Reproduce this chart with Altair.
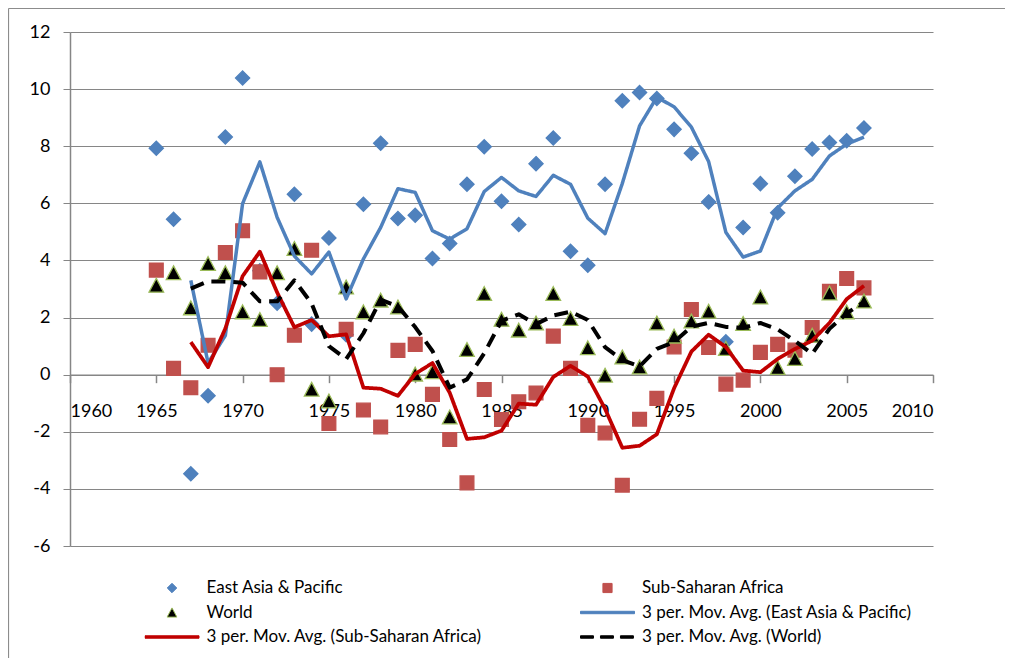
import altair as alt
import pandas as pd

years = list(range(1965, 2007))
east_asia = [7.93, 5.44, -3.47, -0.74, 8.32, 10.39, 3.64, 2.50, 6.32, 1.77, 4.79, 1.40,
             5.97, 8.10, 5.47, 5.58, 4.07, 4.59, 6.67, 7.98, 6.07, 5.26, 7.39, 8.29,
             4.32, 3.83, 6.67, 9.59, 9.88, 9.67, 8.59, 7.75, 6.05, 1.15, 5.15, 6.69,
             5.67, 6.95, 7.90, 8.13, 8.19, 8.64]
sub_saharan = [3.66, 0.22, -0.46, 1.03, 4.28, 5.04, 3.60, 0.00, 1.38, 4.36, -1.71, 1.59,
               -1.24, -1.83, 0.85, 1.06, -0.69, -2.27, -3.79, -0.52, -1.57, -0.95, -0.64, 1.35,
               0.22, -1.77, -2.04, -3.87, -1.56, -0.83, 0.97, 2.28, 0.95, -0.33, -0.19, 0.78,
               1.06, 0.86, 1.65, 2.92, 3.37, 3.04]
world = [3.13, 3.57, 2.34, 3.89, 3.57, 2.20, 1.93, 3.57, 4.42, -0.51, -0.92, 3.07,
         2.20, 2.61, 2.37, 0.02, 0.10, -1.48, 0.88, 2.84, 1.94, 1.56, 1.81, 2.84,
         1.97, 0.94, -0.02, 0.62, 0.27, 1.81, 1.35, 1.88, 2.22, 0.92, 1.79, 2.72,
         0.25, 0.57, 1.38, 2.86, 2.20, 2.58]

regions = ["East Asia & Pacific", "Sub-Saharan Africa", "World"]
ma_names = ["3 per. Mov. Avg. (East Asia & Pacific)",
            "3 per. Mov. Avg. (Sub-Saharan Africa)",
            "3 per. Mov. Avg. (World)"]
legend_order = regions + ma_names

x_ticks = list(range(1960, 2011, 5))
y_ticks = list(range(-6, 13, 2))

df = pd.DataFrame({
    "year": years * 3,
    "value": east_asia + sub_saharan + world,
    "region": [r for r in regions for _ in years],
})

# styling
fill_range = ["#4F81BD", "#C0504D", "#000000", "#4F81BD", "#C00000", "#000000"]
stroke_range = ["#4F81BD", "#C0504D", "#9BBB59", "#4F81BD", "#C00000", "#000000"]
diamond = "M0,-0.175L0.175,0L0,0.175L-0.175,0Z"
square = "M-0.17,-0.17H0.17V0.17H-0.17Z"
triangle = "M0,-0.17L0.18,0.17L-0.18,0.17Z"
bar = "M-1,-0.045H1V0.045H-1Z"
dashbar = ("M-1,-0.045H-0.52V0.045H-1Z M-0.26,-0.045H0.22V0.045H-0.26Z "
           "M0.48,-0.045H0.96V0.045H0.48Z")
shape_range = [diamond, square, triangle, bar, bar, dashbar]

fill_scale = alt.Scale(domain=legend_order, range=fill_range)
stroke_scale = alt.Scale(domain=legend_order, range=stroke_range)
shape_scale = alt.Scale(domain=legend_order, range=shape_range)

W, H = 863, 514
PAD = {"left": 62, "top": 24, "right": 72, "bottom": 112}
x_enc = alt.X("year:Q", scale=alt.Scale(domain=[1960, 2010], nice=False, zero=False),
              axis=alt.Axis(values=x_ticks, labelExpr="'' + datum.value", grid=False,
                            title=None, tickSize=8, labelPadding=29, labelBaseline="middle",
                            offset=-H / 3, domainWidth=1.5, tickWidth=1.5))
y_scale = alt.Scale(domain=[-6, 12], nice=False, zero=False)
y_axis = alt.Axis(values=y_ticks, labelExpr="'' + datum.value", grid=True, title=None,
                  tickSize=7, labelPadding=13, domainWidth=1.5, gridWidth=1.2)

base = alt.Chart(df)

points = base.mark_point(filled=True, size=6561, opacity=1, strokeWidth=1.3).encode(
    x=x_enc,
    y=alt.Y("value:Q", scale=y_scale, axis=y_axis),
    fill=alt.Fill("region:N", scale=fill_scale, legend=alt.Legend(title=None)),
    stroke=alt.Stroke("region:N", scale=stroke_scale, legend=alt.Legend(title=None)),
    shape=alt.Shape("region:N", scale=shape_scale, legend=alt.Legend(title=None)),
)

lines = base.transform_window(
    ma="mean(value)", n="count(value)", frame=[-2, 0], groupby=["region"],
    sort=[alt.SortField("year", order="ascending")]
).transform_filter("datum.n == 3").transform_calculate(
    series="'3 per. Mov. Avg. (' + datum.region + ')'"
).mark_line(strokeJoin="round", strokeCap="butt").encode(
    x="year:Q",
    y="ma:Q",
    stroke=alt.Stroke("series:N", scale=stroke_scale, legend=alt.Legend(title=None)),
    strokeDash=alt.StrokeDash("series:N",
                              scale=alt.Scale(domain=ma_names, range=[[1, 0], [1, 0], [14, 8]]),
                              legend=None),
    strokeWidth=alt.StrokeWidth("series:N",
                                scale=alt.Scale(domain=ma_names, range=[3.5, 4.0, 3.5]),
                                legend=None),
)

# chart-area frame (top and left edges, as in the spreadsheet chart)
frame_data = alt.Chart(pd.DataFrame({"k": [0]}))
frame_top = frame_data.mark_rule(color="#8C8C8C", strokeWidth=1.2).encode(
    x=alt.value(-PAD["left"] + 0.5), x2=alt.value(W + PAD["right"]),
    y=alt.value(-PAD["top"] + 0.5))
frame_left = frame_data.mark_rule(color="#8C8C8C", strokeWidth=1.2).encode(
    x=alt.value(-PAD["left"] + 0.5), y=alt.value(-PAD["top"] + 0.5),
    y2=alt.value(H + PAD["bottom"]))

chart = alt.layer(frame_top, frame_left, points, lines).properties(
    width=W, height=H,
    autosize=alt.AutoSizeParams(type="none"),
    padding=PAD,
).configure_view(strokeWidth=0).configure_axis(
    labelFont="Lato", labelFontSize=18, labelColor="#000000",
    domainColor="#868686", tickColor="#868686", gridColor="#868686",
).configure_legend(
    orient="none", legendX=74.5, legendY=546, columns=2, columnPadding=97.5,
    direction="horizontal",
    rowPadding=4.5, clipHeight=20, symbolSize=2916, symbolStrokeWidth=1,
    labelOffset=7, labelFont="Lato", labelFontSize=17, labelColor="#000000",
    labelLimit=600, padding=0,
)

chart.save("out.html", embed_options={"renderer": "svg", "actions": False})
